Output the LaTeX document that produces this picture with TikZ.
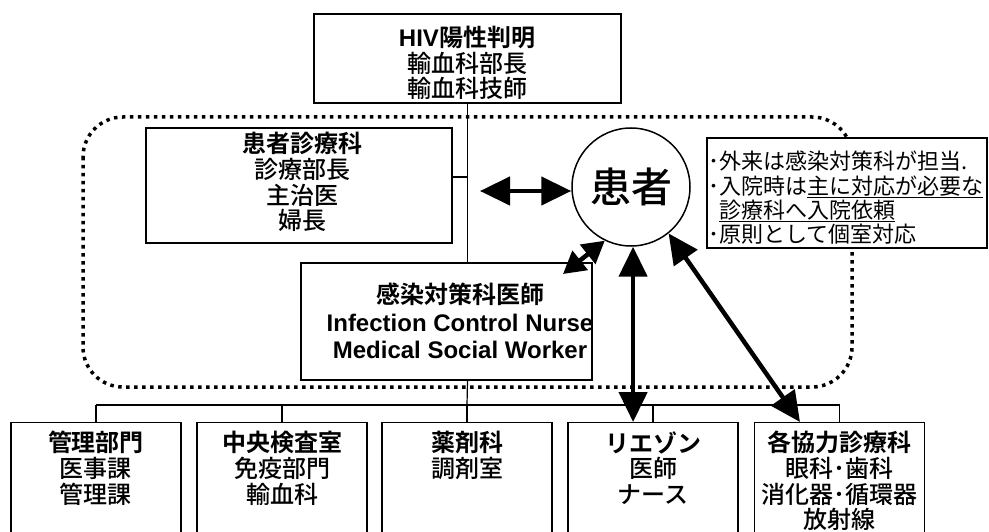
\documentclass[tikz,border=0pt]{standalone}
\usepackage{fontspec}
\setmainfont{Noto Sans CJK JP}[UprightFont={* Medium}, BoldFont={* Bold}]
\newfontfamily\jpreg{Noto Sans CJK JP}
\newfontfamily\lat{Liberation Sans}
\usetikzlibrary{arrows.meta}
\tikzset{
  box/.style={draw, line width=1.2pt, fill=white, inner sep=0pt, rectangle},
  lbl/.style={align=center, inner sep=0pt, anchor=north, font=\fontsize{24}{25.7}\selectfont},
  conn/.style={line width=1.2pt},
  dotbox/.style={line width=3.5pt, dash pattern=on 3.5pt off 4.5pt, rounded corners=40pt},
  tipx/.tip={Triangle[length=30pt, width=28pt]},
  tipsm/.tip={Triangle[length=22pt, width=24pt]},
  dbl/.style={line width=4.5pt, tipx-tipx},
  dblsm/.style={line width=4.5pt, tipsm-tipsm},
}
\begin{document}
\begin{tikzpicture}[x=1pt,y=-1pt]
\useasboundingbox (0,0) rectangle (989,532);
\clip (0,0) rectangle (989,532);
\fill[white] (0,0) rectangle (989,532);

% dotted region
\draw[dotbox] (83,117) rectangle (852,387);

% top box
\node[box, minimum width=307pt, minimum height=89pt] (top) at (467.5,58.5) {};
\node[lbl] (ttop) at (467,26) {\textbf{\lat HIV}\textbf{陽性判明}\\輸血科部長\\輸血科技師};

% patient department box
\node[box, minimum width=306pt, minimum height=115pt] (pd) at (299,185.5) {};
\node[lbl] (tpd) at (302,132) {\textbf{患者診療科}\\診療部長\\主治医\\婦長};

% ICN box
\node[box, line width=2.4pt, minimum width=291pt, minimum height=117pt] (icn) at (446.5,321.5) {};
\node[lbl, font=\fontsize{24}{27.5}\selectfont] (ticn) at (460,283) {\textbf{感染対策科医師}\\{\lat\bfseries Infection Control Nurse}\\{\lat\bfseries Medical Social Worker}};

% patient circle
\node[circle, draw, line width=1.5pt, fill=white, minimum size=118pt, inner sep=0pt, font=\fontsize{41}{41}\selectfont] (pt) at (631,187) {患者};

% note box
\node[box, minimum width=280pt, minimum height=110pt] (note) at (847,193) {};
\node[inner sep=0pt, anchor=north west, align=left, font=\jpreg\fontsize{22}{24.3}\selectfont] (tnote) at (708,151)
 {･外来は感染対策科が担当.\\･入院時は\underline{主に対応が必要な}\\\hspace*{11pt}\underline{診療科へ入院依頼}\\･原則として個室対応};

% bottom boxes
\foreach \n/\x in {b1/96, b2/282, b3/467, b4/653, b5/839.5}{
  \node[box, anchor=north, minimum width=170pt, minimum height=125pt] (\n) at (\x,422) {};
}
\node[lbl] (tb1) at (96,431) {\textbf{管理部門}\\医事課\\管理課};
\node[lbl] (tb2) at (282,431) {\textbf{中央検査室}\\免疫部門\\輸血科};
\node[lbl] (tb3) at (467,431) {\textbf{薬剤科}\\調剤室};
\node[lbl] (tb4) at (653,431) {\textbf{リエゾン}\\医師\\ナース};
\node[lbl] (tb5) at (839.5,431) {\textbf{各協力診療科}\\眼科･歯科\\消化器･循環器\\放射線};

% connectors
\coordinate (bus) at (467,405);
\draw[conn] (top.south) -- (top.south |- icn.north);
\draw[conn] ([yshift=8.5pt]pd.east) -- ([yshift=8.5pt]pd.east -| top.south);
\draw[conn] (top.south |- icn.south) -- (bus);
\draw[conn] (b1.north |- bus) -- (b5.north |- bus);
\foreach \n in {b1,b2,b3,b4,b5}{
  \draw[conn] (\n.north |- bus) -- (\n.north);
}

% arrows
\coordinate (hl) at (480,191);
\draw[dbl] (hl) -- (hl -| pt.west);
\coordinate (ai) at (563,274);
\draw[dblsm] (ai) -- (pt.244);
\draw[dbl] (pt.272) -- (pt.272 |- b4.north);
\draw[dbl] (pt.309) -- ([xshift=-39.5pt]b5.north);
\end{tikzpicture}
\end{document}
